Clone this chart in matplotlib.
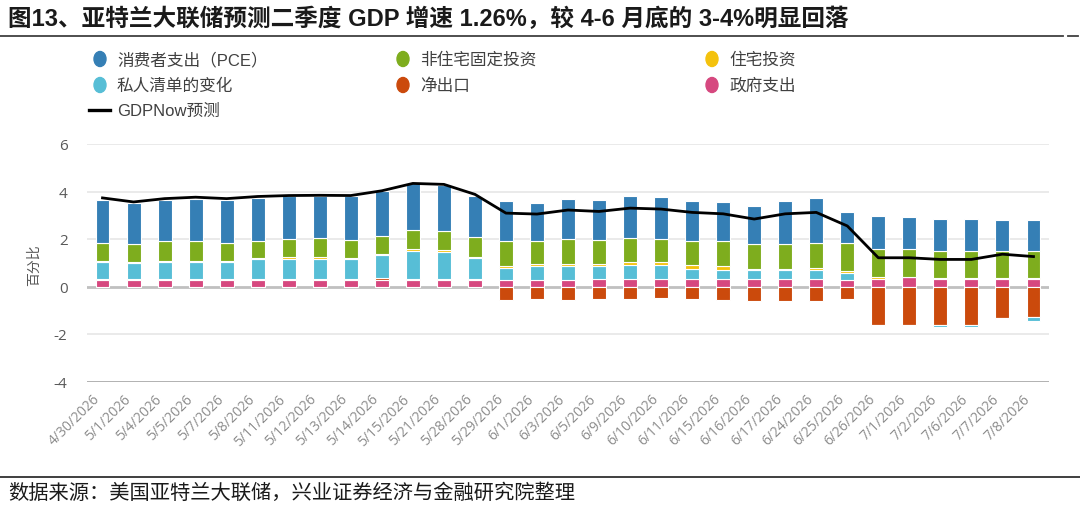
import numpy as np
import matplotlib
matplotlib.use('Agg')
import matplotlib.pyplot as plt
from matplotlib.patches import Ellipse
from matplotlib.lines import Line2D

plt.rcParams['font.family'] = ['Noto Sans CJK SC', 'DejaVu Sans']
plt.rcParams['axes.unicode_minus'] = False

dates = ['4/30/2026', '5/1/2026', '5/4/2026', '5/5/2026', '5/7/2026', '5/8/2026',
         '5/11/2026', '5/12/2026', '5/13/2026', '5/14/2026', '5/15/2026', '5/21/2026',
         '5/28/2026', '5/29/2026', '6/1/2026', '6/3/2026', '6/5/2026', '6/9/2026',
         '6/10/2026', '6/11/2026', '6/15/2026', '6/16/2026', '6/17/2026', '6/24/2026',
         '6/25/2026', '6/26/2026', '7/1/2026', '7/2/2026', '7/6/2026', '7/7/2026',
         '7/8/2026']

# contributions (pp), stacked in this order
gov = [0.29, 0.29, 0.29, 0.29, 0.29, 0.29, 0.29, 0.29, 0.29, 0.29, 0.29, 0.29, 0.29,
       0.28, 0.28, 0.28, 0.33, 0.33, 0.33, 0.33, 0.33, 0.33, 0.33, 0.33, 0.28,
       0.33, 0.38, 0.30, 0.30, 0.30, 0.30]
netex = [0.04, 0.04, 0.04, 0.04, 0.04, 0.04, 0.04, 0.04, 0.04, 0.07, 0.03, 0.03, 0.03,
         -0.55, -0.52, -0.57, -0.53, -0.53, -0.50, -0.53, -0.57, -0.60, -0.60, -0.60, -0.53,
         -1.60, -1.60, -1.63, -1.62, -1.32, -1.30]
inv = [0.70, 0.67, 0.70, 0.70, 0.70, 0.82, 0.82, 0.82, 0.82, 0.95, 1.16, 1.13, 0.88,
       0.52, 0.57, 0.57, 0.52, 0.58, 0.58, 0.41, 0.38, 0.36, 0.36, 0.38, 0.27,
       -0.08, -0.05, -0.07, -0.07, -0.05, -0.17]
res = [0.03, 0.02, 0.03, 0.03, 0.03, 0.03, 0.08, 0.08, 0.07, 0.04, 0.09, 0.07, 0.03,
       0.05, 0.08, 0.09, 0.09, 0.13, 0.13, 0.15, 0.14, 0.03, 0.03, 0.09, 0.11,
       0.06, 0.02, 0.04, 0.04, 0.04, 0.04]
nonres = [0.78, 0.77, 0.87, 0.87, 0.78, 0.75, 0.76, 0.80, 0.74, 0.78, 0.81, 0.82, 0.84,
          1.05, 0.98, 1.04, 1.02, 1.02, 0.98, 1.04, 1.08, 1.07, 1.07, 1.04, 1.16,
          1.20, 1.16, 1.16, 1.16, 1.16, 1.16]
pce = [1.82, 1.73, 1.73, 1.77, 1.82, 1.80, 1.81, 1.77, 1.87, 1.88, 1.96, 1.92, 1.76,
       1.72, 1.61, 1.72, 1.70, 1.74, 1.73, 1.69, 1.63, 1.61, 1.83, 1.89, 1.30,
       1.39, 1.36, 1.36, 1.36, 1.28, 1.28]
gdpnow = [3.73, 3.56, 3.70, 3.76, 3.70, 3.79, 3.83, 3.84, 3.83, 4.03, 4.34, 4.30, 3.88,
          3.09, 3.05, 3.22, 3.16, 3.30, 3.26, 3.12, 3.06, 2.84, 3.06, 3.12, 2.55,
          1.21, 1.21, 1.14, 1.14, 1.36, 1.26]

c_pce = '#357fb5'
c_nonres = '#7ead1e'
c_res = '#f4c20d'
c_inv = '#57bed6'
c_netex = '#cb4a0c'
c_gov = '#d6487f'

latin_cjk = ['Liberation Sans', 'Noto Sans CJK SC']

fig = plt.figure(figsize=(10.8, 5.06), dpi=100)
W, H = 1080, 506
ax = fig.add_axes([87 / W, 1 - 382.5 / H, 962 / W, 237.5 / H])

x = np.arange(len(dates))
pos_base = np.zeros(len(dates))
neg_base = np.zeros(len(dates))
for vals, col in [(gov, c_gov), (netex, c_netex), (inv, c_inv),
                  (res, c_res), (nonres, c_nonres), (pce, c_pce)]:
    v = np.array(vals)
    base = np.where(v >= 0, pos_base, neg_base)
    ax.bar(x, v, 0.45, bottom=base, color=col, edgecolor='white',
           linewidth=0.8, zorder=3)
    pos_base += np.where(v >= 0, v, 0)
    neg_base += np.where(v < 0, v, 0)

ax.plot(x, gdpnow, color='black', lw=2.0, zorder=4)

ax.set_xlim(-0.5, len(dates) - 0.5)
ax.set_ylim(-4, 6)
ax.set_yticks([-4, -2, 0, 2, 4, 6])
for yy in [-2, 2, 4, 6]:
    ax.axhline(yy, color='#e6e6e6', lw=1.2, zorder=1)
ax.axhline(0, color='#c0c0c0', lw=2, zorder=2)
ax.axhline(-4, color='#9a9a9a', lw=1.8, zorder=2)
for s in ax.spines.values():
    s.set_visible(False)

ax.set_xticks(x)
ax.set_xticklabels(dates, rotation=45, ha='right', fontsize=10,
                   color='#8c8c8c', family=['Open Sans', 'DejaVu Sans'])
ax.tick_params(axis='x', length=0, pad=7)
ax.tick_params(axis='y', length=0, pad=14, labelsize=11, labelcolor='#595959')
for lab in ax.get_yticklabels():
    lab.set_family(['Open Sans', 'DejaVu Sans'])

fig.text(34 / W, 1 - 265 / H, '百分比', rotation=90, ha='center', va='center',
         fontsize=10, color='#595959')

# title and rules
fig.text(8 / W, 1 - 19 / H, '图13、亚特兰大联储预测二季度 GDP 增速 1.26%，较 4-6 月底的 3-4%明显回落',
         fontsize=17, weight='bold', va='center', color='#1a1a1a', family=latin_cjk)
fig.add_artist(Line2D([0, 1063 / W], [1 - 37 / H] * 2, color='#404040', lw=1.3,
                      transform=fig.transFigure))
fig.add_artist(Line2D([1068 / W, 1078 / W], [1 - 37 / H] * 2, color='#404040', lw=1.3,
                      transform=fig.transFigure))
fig.add_artist(Line2D([0, 1], [1 - 478 / H] * 2, color='#303030', lw=1.3,
                      transform=fig.transFigure))
fig.text(8 / W, 1 - 493 / H, '数据来源：美国亚特兰大联储，兴业证券经济与金融研究院整理',
         fontsize=14.6, va='center', color='#1a1a1a')

# legend
legend_items = [('消费者支出（PCE）', c_pce, 100, 60), ('私人清单的变化', c_inv, 100, 86),
                ('非住宅固定投资', c_nonres, 403, 60), ('净出口', c_netex, 403, 86),
                ('住宅投资', c_res, 712, 60), ('政府支出', c_gov, 712, 86)]
for name, col, lx, ly in legend_items:
    fig.add_artist(Ellipse((lx / W, 1 - ly / H), 12 / W, 15 / H, color=col,
                           transform=fig.transFigure))
    fig.text((lx + 17) / W, 1 - ly / H, name, fontsize=12, va='center', color='#404040',
             family=latin_cjk)
fig.add_artist(Line2D([89 / W, 110 / W], [1 - 111 / H] * 2, color='black', lw=2.4,
                      transform=fig.transFigure))
fig.text(117 / W, 1 - 111 / H, 'GDPNow预测', fontsize=12, va='center', color='#404040',
         family=latin_cjk)

fig.savefig('out.png', dpi=100)
